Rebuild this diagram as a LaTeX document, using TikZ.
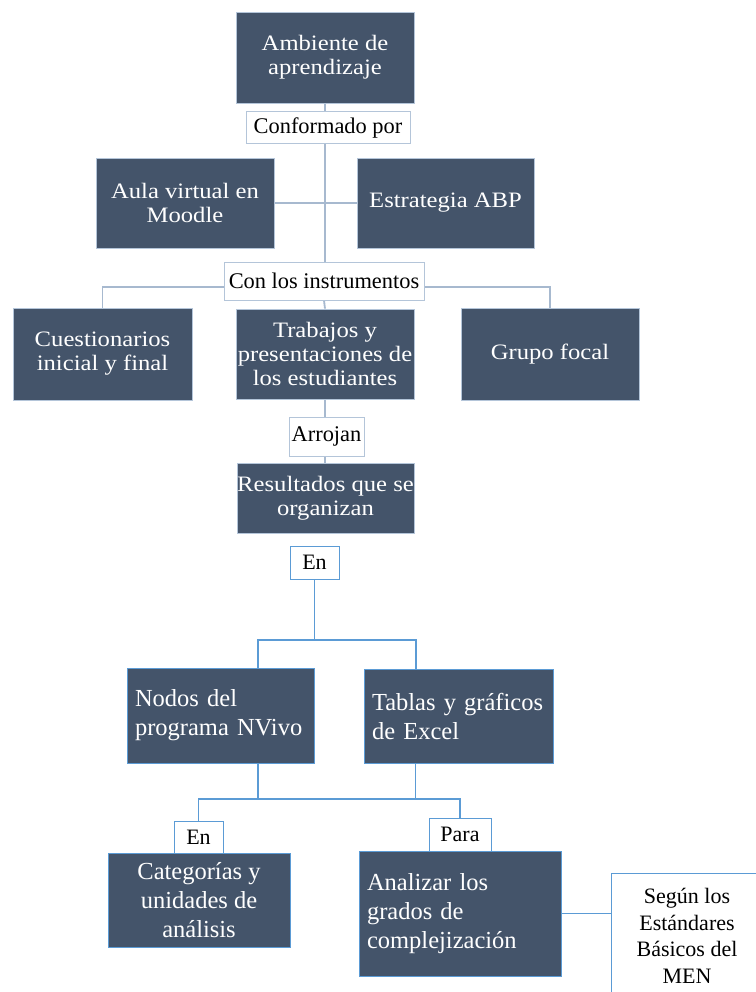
\documentclass[tikz,border=0pt]{standalone}
\usepackage{fontspec}
\setmainfont{Liberation Serif}
\newfontfamily\topfont[FakeStretch=1.12]{Liberation Serif}
\usetikzlibrary{backgrounds}
\definecolor{dark}{HTML}{44546A}
\definecolor{topline}{HTML}{A7B9CF}
\definecolor{topedge}{HTML}{B4C5D9}
\definecolor{lowline}{HTML}{5B9BD5}
\tikzset{
  topbox/.style={fill=dark, draw=topedge, line width=0.8pt, text=white, align=center,
    inner sep=0pt, font=\topfont\fontsize{22}{24}\selectfont},
  toplabel/.style={fill=white, draw=topedge, line width=1pt, text=black, align=center,
    inner sep=0pt, font=\fontsize{22.4}{26}\selectfont},
  lowbox/.style={fill=dark, draw=lowline, line width=0.8pt, text=white, align=center,
    inner sep=0pt, font=\fontsize{24.5}{29}\selectfont},
  lowleft/.style={lowbox, align=left, inner xsep=8pt},
  lowlabel/.style={fill=white, draw=lowline, line width=1pt, text=black, align=center,
    inner sep=0pt, font=\fontsize{22}{26.5}\selectfont},
  topconn/.style={draw=topline, line width=1.8pt},
  lowconn/.style={draw=lowline, line width=1.3pt},
}
\begin{document}
\begin{tikzpicture}[x=1pt, y=-1pt]
\useasboundingbox (0,0) rectangle (755,992);
% top part
\node[topbox, minimum width=178pt, minimum height=91pt] (amb) at (325,57.5) {Ambiente de\\aprendizaje};
\node[toplabel, minimum width=164pt, minimum height=32pt] (conf) at (328,128) {Conformado por};
\node[topbox, minimum width=178pt, minimum height=90pt] (aula) at (185,203) {Aula virtual en\\Moodle};
\node[topbox, minimum width=177pt, minimum height=90pt] (abp) at (445.5,203) {Estrategia ABP};
\node[toplabel, minimum width=200pt, minimum height=38pt] (con) at (324,281) {Con los instrumentos};
\node[topbox, minimum width=179pt, minimum height=92pt] (cues) at (102.5,354) {Cuestionarios\\inicial y final};
\node[topbox, minimum width=178pt, minimum height=90pt] (trab) at (325,354) {Trabajos y\\presentaciones de\\los estudiantes};
\node[topbox, minimum width=178pt, minimum height=92pt] (grupo) at (550,354) {Grupo focal};
\node[toplabel, minimum width=75pt, minimum height=39pt] (arro) at (326.5,436.5) {Arrojan};
\node[topbox, minimum width=177pt, minimum height=70pt] (res) at (325.5,498) {Resultados que se\\organizan};
% lower part
\node[lowlabel, minimum width=49pt, minimum height=33pt] (en1) at (314.5,562.5) {En};
\node[lowleft, text width=171pt, minimum height=95pt] (nodos) at (220.5,715.5) {Nodos del\\programa NVivo};
\node[lowleft, text width=173pt, minimum height=94pt] (tablas) at (458.5,716) {Tablas y gráficos\\de Excel};
\node[lowbox, minimum width=182pt, minimum height=94pt] (cat) at (199,900) {Categorías y\\unidades de\\análisis};
\node[lowleft, text width=186pt, minimum height=125pt] (anal) at (460,913.5) {Analizar los\\grados de\\complejización};
\node[lowlabel, minimum width=49pt, minimum height=32pt] (en2) at (198.5,837) {En};
\node[lowlabel, minimum width=62pt, minimum height=33pt] (para) at (460,834.5) {Para};
\node[lowlabel, minimum width=152pt, minimum height=126pt] (seg) at (687,936) {Según los\\Estándares\\Básicos del\\MEN};
% junction coordinates
\coordinate (cl) at (102.5,287);
\coordinate (cr) at (550,287);
\coordinate (j1) at (314.5,640);
\coordinate (a1) at (258,640);
\coordinate (b1) at (416,640);
\coordinate (a2) at (258,799);
\coordinate (b2) at (415.5,799);
\coordinate (c2) at (198.5,799);
\coordinate (d2) at (460,799);
\begin{pgfonlayer}{background}
  \draw[topconn] (amb.south) -- (amb.south |- con.north);
  \draw[topconn] (aula.east) -- (abp.west);
  \draw[topconn] (cues.north) -- (cl) -- (cr) -- (grupo.north);
  \draw[topconn] (con.south) -- (trab.north);
  \draw[topconn] (trab.south) -- (trab.south |- res.north);
  \draw[lowconn] (en1.south) -- (j1);
  \draw[lowconn] (a1 |- nodos.north) -- (a1) -- (b1) -- (b1 |- tablas.north);
  \draw[lowconn] (a2 |- nodos.south) -- (a2);
  \draw[lowconn] (b2 |- tablas.south) -- (b2);
  \draw[lowconn] (en2.north) -- (c2) -- (d2) -- (para.north);
  \draw[lowconn] (anal.east) -- (anal.east -| seg.west);
\end{pgfonlayer}
\end{tikzpicture}
\end{document}
